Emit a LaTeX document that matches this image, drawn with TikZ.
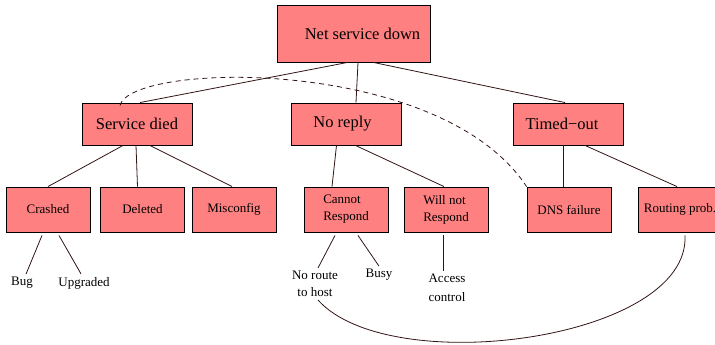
\documentclass[tikz,border=0pt]{standalone}
\usepackage{fontspec}
\setmainfont{Liberation Serif}
\usetikzlibrary{positioning}
\definecolor{faultred}{RGB}{255,128,128}
\definecolor{edgebrown}{RGB}{50,20,20}

\tikzset{
    faultbox/.style={draw=black, line width=0.9pt, fill=faultred, inner sep=2pt},
    topbox/.style={faultbox, minimum width=153pt, minimum height=57pt, font=\fontsize{16.5}{19}\selectfont},
    midbox/.style={faultbox, minimum width=110pt, minimum height=42pt, font=\fontsize{16.5}{19}\selectfont},
    lowbox/.style={faultbox, minimum width=84pt, minimum height=45pt, font=\fontsize{13}{17}\selectfont},
    leaf/.style={inner sep=3pt, font=\fontsize{13}{17}\selectfont},
    branch/.style={draw=edgebrown, line width=0.8pt}
}

\begin{document}
\begin{tikzpicture}[x=1pt, y=-1pt]
            \path[use as bounding box, clip] (0,0) rectangle (715,345);

            % Top event
            \node[topbox] (root) at (353.5,33.5) {\hspace*{18pt}Net service down};

            % Second level
            \node[midbox] (died) at (137,124) {Service died};
            \node[midbox] (noreply) at (346.5,124) {No reply\hspace*{8pt}};
            \node[midbox] (timeout) at (568,124) {Timed−out\hspace*{12pt}};

            % Third level
            \node[lowbox] (crashed) at (48,209.5) {Crashed};
            \node[lowbox] (deleted) at (142.5,209.5) {Deleted};
            \node[lowbox] (misconfig) at (234,209.5) {Misconfig};
            \node[lowbox, align=left] (cannot) at (346,209.5) {Cannot\\Respond};
            \node[lowbox, align=left] (willnot) at (446,209.5) {Will not\\Respond};
            \node[lowbox] (dns) at (569,209.5) {DNS failure};
            \node[lowbox] (routing) at (680,209.5) {Routing prob.};

            % Leaves
            \node[leaf] (bug) at (22,283) {Bug};
            \node[leaf] (upgraded) at (84,283) {Upgraded};
            \node[leaf, align=center] (noroute) at (315,284) {No route\\to host};
            \node[leaf] (busy) at (379,275) {Busy};
            \node[leaf, align=center, font=\fontsize{13}{19}\selectfont] (access) at (447,288) {Access\\control};

            % Branches
            \draw[branch] ([xshift=-6pt]root.south) -- ([xshift=3pt]died.north);
            \draw[branch] ([xshift=4.5pt]root.south) -- ([xshift=9.5pt]noreply.north);
            \draw[branch] ([xshift=20pt]root.south) -- ([xshift=-3pt]timeout.north);

            \draw[branch] ([xshift=-14pt]died.south) -- (crashed.north);
            \draw[branch] ([xshift=-1pt]died.south) -- ([xshift=-5pt]deleted.north);
            \draw[branch] ([xshift=13pt]died.south) -- ([xshift=-2pt]misconfig.north);
            \draw[branch] ([xshift=-10pt]noreply.south) -- ([xshift=-14pt]cannot.north);
            \draw[branch] ([xshift=9pt]noreply.south) -- ([xshift=-2pt]willnot.north);
            \draw[branch] ([xshift=-5pt]timeout.south) -- ([xshift=-6pt]dns.north);
            \draw[branch] ([xshift=17pt]timeout.south) -- ([xshift=-3pt]routing.north);

            \draw[branch] ([xshift=-6pt,yshift=-3pt]crashed.south) -- ([xshift=4pt]bug.north);
            \draw[branch] ([xshift=11pt,yshift=-3pt]crashed.south) -- ([xshift=-3pt]upgraded.north);
            \draw[branch] ([xshift=-11pt,yshift=-3pt]cannot.south) -- ([xshift=3pt]noroute.north);
            \draw[branch] ([xshift=12pt,yshift=-3pt]cannot.south) -- (busy.north);
            \draw[branch] ([xshift=-3pt,yshift=-3pt]willnot.south) -- ([xshift=-4pt]access.north);

            % Cross links
            \draw[branch, dash pattern=on 5pt off 4pt] ([xshift=-17pt,yshift=-3pt]died.north) .. controls (130,62) and (440,55) .. (dns.north west);
            \draw[branch] ([xshift=3pt]noroute.south) .. controls (390,380) and (690,340) .. ([xshift=5pt,yshift=-3pt]routing.south);
        \end{tikzpicture}
\end{document}
